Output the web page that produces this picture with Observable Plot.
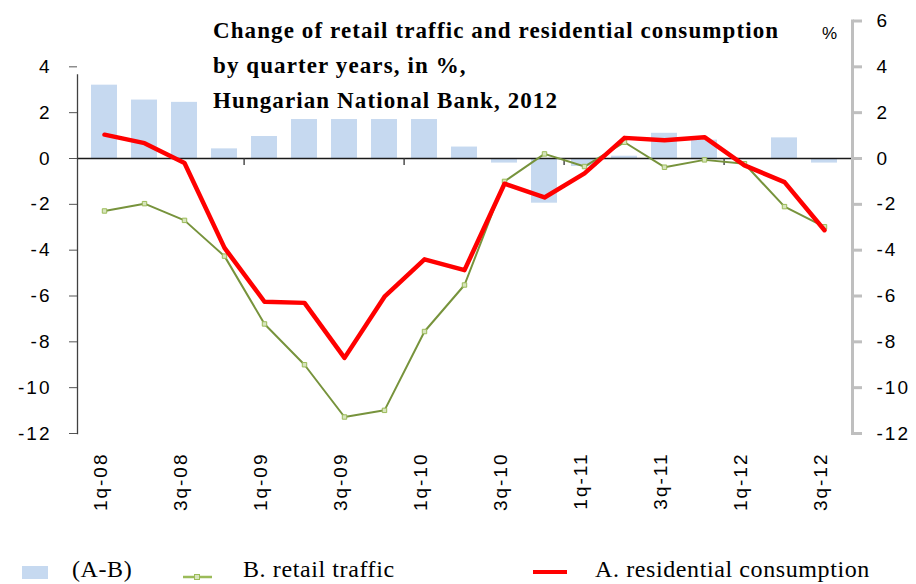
<!DOCTYPE html>
<html><head><meta charset="utf-8">
<script src="https://cdn.jsdelivr.net/npm/d3@7"></script>
<script src="https://cdn.jsdelivr.net/npm/@observablehq/plot@0.6"></script>
<style>
body{margin:0;background:#fff;}
#wrap{position:relative;width:916px;height:584px;overflow:hidden;background:#fff;}
#overlay{position:absolute;left:0;top:0;}
#legend{display:block;}
#chart svg{display:block;}
</style></head><body>
<div id="wrap"><div id="chart"></div><svg id="legend" width="916" height="38"></svg><svg id="overlay" width="916" height="120"></svg></div>
<script>
const quarters = ["1q-08","2q-08","3q-08","4q-08","1q-09","2q-09","3q-09","4q-09","1q-10","2q-10","3q-10","4q-10","1q-11","2q-11","3q-11","4q-11","1q-12","2q-12","3q-12"];
const diffAB = [3.2, 2.55, 2.45, 0.42, 0.96, 1.7, 1.7, 1.7, 1.7, 0.5, -0.2, -1.95, -0.35, 0.1, 1.1, 0.8, -0.05, 0.9, -0.2];
const retail = [-2.29, -1.97, -2.7, -4.26, -7.22, -9.0, -11.28, -10.99, -7.55, -5.52, -1.0, 0.2, -0.35, 0.71, -0.38, -0.06, -0.23, -2.1, -2.98];
const consumption = [1.04, 0.67, -0.2, -3.9, -6.25, -6.3, -8.7, -6.03, -4.4, -4.87, -1.1, -1.7, -0.65, 0.9, 0.8, 0.93, -0.3, -1.03, -3.13];
const leftTicks = [-12, -10, -8, -6, -4, -2, 0, 2, 4];
const rightTicks = [-12, -10, -8, -6, -4, -2, 0, 2, 4, 6];
const titleLines = ["Change of retail traffic and residential consumption", "by quarter years, in %,", "Hungarian National Bank, 2012"];
const unitLabel = "%";
const legendLabels = ["(A-B)", "B. retail traffic", "A. residential consumption"];

const xLabels = quarters.filter((d, i) => i % 2 === 0);
const boundaryQuarters = quarters.filter((d, i) => i > 0 && i % 4 === 0);

const W = 916, H = 546, mL = 77, mR = 64, mT = 20.5, mB = 113;
const step = (W - mL - mR) / quarters.length;
const rows = quarters.map((q, i) => ({q, ab: diffAB[i], b: retail[i], a: consumption[i]}));

const chart = Plot.plot({
  width: W, height: H, marginLeft: mL, marginRight: mR, marginTop: mT, marginBottom: mB,
  style: {fontFamily: "'Liberation Sans', Arial, sans-serif", fontSize: "19px", letterSpacing: "2px", color: "#000", background: "#fff"},
  x: {type: "band", domain: quarters, paddingInner: 0.34, paddingOuter: 0.17},
  y: {domain: [-12, 6]},
  marks: [
    Plot.barY(rows, {x: "q", y: "ab", fill: "#c6d9f0"}),
    Plot.ruleY([0], {stroke: "#1a1a1a", strokeWidth: 1.3}),
    Plot.ruleX(boundaryQuarters, {x: d => d, y1: 0, y2: -0.3, dx: -step / 2, stroke: "#333", strokeWidth: 1.3}),
    Plot.frame({anchor: "left", insetTop: 54, stroke: "#404040", strokeWidth: 1.3}),
    Plot.frame({anchor: "right", stroke: "#bfbfbf", strokeWidth: 3}),
    Plot.axisY({anchor: "left", ticks: leftTicks, tickSize: 8, tickPadding: 18, tickFormat: d => String(d), stroke: "#555", label: null}),
    Plot.axisY({anchor: "right", ticks: rightTicks, tickSize: 9, tickPadding: 15, tickFormat: d => String(d), stroke: "#bfbfbf", strokeWidth: 3, label: null}),
    Plot.axisX({ticks: xLabels, tickRotate: -90, tickSize: 0, tickPadding: 19, dx: -4, label: null}),
    Plot.line(rows, {x: "q", y: "b", stroke: "#77933c", strokeWidth: 2}),
    Plot.dot(rows, {x: "q", y: "b", symbol: "square", r: 2.5, fill: "#d7e4bd", stroke: "#9bbb59", strokeWidth: 1}),
    Plot.line(rows, {x: "q", y: "a", stroke: "#ff0000", strokeWidth: 4.5, strokeLinejoin: "round"})
  ]
});
document.getElementById("chart").appendChild(chart);

// legend (svg starts at y = 546)
const lg = d3.select("#legend");
const serif = "'Liberation Serif', 'Times New Roman', serif";
lg.append("rect").attr("x", 22).attr("y", 20).attr("width", 26).attr("height", 13).attr("fill", "#c6d9f0");
lg.append("line").attr("x1", 183).attr("x2", 212).attr("y1", 31).attr("y2", 31).attr("stroke", "#9bbb59").attr("stroke-width", 2.5);
lg.append("rect").attr("x", 194.5).attr("y", 28.5).attr("width", 5).attr("height", 5).attr("fill", "#d7e4bd").attr("stroke", "#9bbb59");
lg.append("line").attr("x1", 533).attr("x2", 567).attr("y1", 26).attr("y2", 26).attr("stroke", "#ff0000").attr("stroke-width", 4);
[[72, 31], [243, 31], [595, 31]].forEach(([x, y], i) => {
  lg.append("text").attr("x", x).attr("y", y).text(legendLabels[i])
    .attr("font-family", serif).attr("font-size", 24).attr("letter-spacing", "0.6px").attr("fill", "#000");
});

// title overlay
const ov = d3.select("#overlay");
[38, 73, 108].forEach((y, i) => {
  ov.append("text").attr("x", 213).attr("y", y).text(titleLines[i])
    .attr("font-family", serif).attr("font-weight", "bold").attr("font-size", 23).attr("letter-spacing", "1.1px").attr("fill", "#000");
});
ov.append("text").attr("x", 822).attr("y", 39).text(unitLabel)
  .attr("font-family", "'Liberation Sans', Arial, sans-serif").attr("font-size", 17).attr("fill", "#000");
</script>
</body></html>
